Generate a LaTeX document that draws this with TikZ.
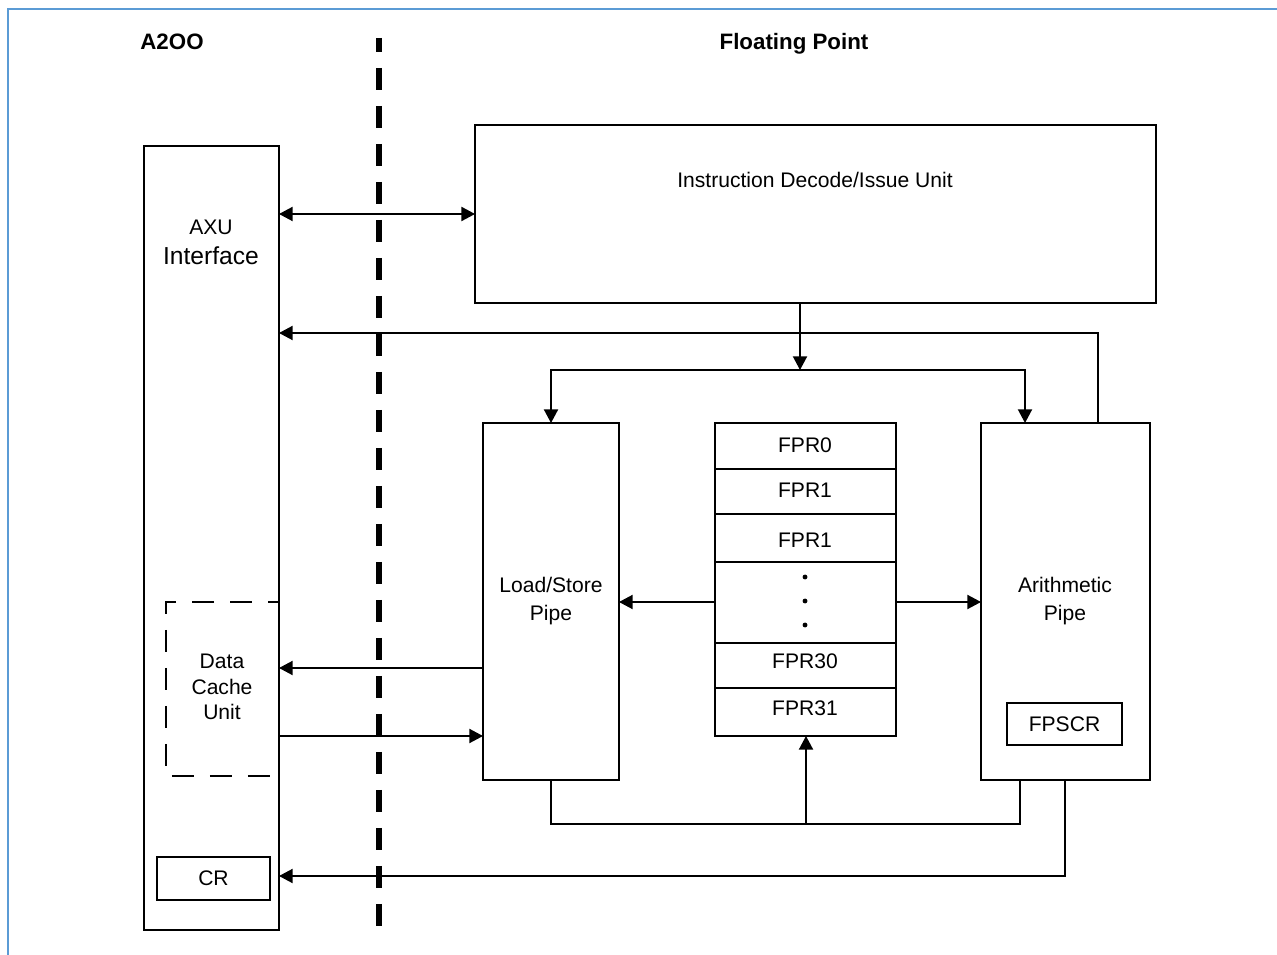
\documentclass[tikz,border=0pt]{standalone}
\usepackage{fontspec}
\setmainfont{Liberation Sans}
\usetikzlibrary{arrows.meta, positioning}
\definecolor{frameblue}{RGB}{91, 155, 213}

\begin{document}
\begin{tikzpicture}[x=0.02cm, y=-0.02cm,
  >={Triangle[length=7.8pt, width=8pt]},
  box/.style={draw, line width=1.1pt, inner sep=0pt, outer sep=0pt},
  lbl/.style={font=\fontsize{12}{16.4}\selectfont, align=center, inner sep=0pt},
  ttl/.style={font=\fontsize{12.7}{15}\selectfont\bfseries, inner sep=0pt},
  link/.style={line width=1.1pt}]
  \useasboundingbox (0,0) rectangle (1277,955);

  % Page frame
  \draw[frameblue, line width=1.2pt] (8,955) -- (8,9) -- (1277,9);

  % Titles
  \node[ttl] (a2oo) at (172,42) {A2OO};
  \node[ttl] (fptitle) at (794,44) {Floating Point};

  % Boundary between the two sides
  \draw[line width=3.4pt, dash pattern=on 0.44cm off 0.32cm, dash phase=0.16cm]
    (379,38) -- (379,940);

  % AXU interface
  \node[box, minimum width=2.7cm, minimum height=15.68cm] (axu) at (211.5,538) {};
  \node[lbl] (axulbl) at (211,227) {AXU};
  \node[lbl, font=\fontsize{14}{16}\selectfont] (intlbl) at (211,256) {Interface};

  % Data cache unit (dashed)
  \coordinate (dcutop) at (166,602);
  \coordinate (dcubot) at (166,776);
  \draw[link, dash pattern=on 0.44cm off 0.32cm, dash phase=0.22cm]
    (dcutop -| axu.east) -- (dcutop) -- (dcubot) -- (dcubot -| axu.east);
  \node[lbl, font=\fontsize{12}{14.5}\selectfont] (dculbl) at (222,687) {Data\\Cache\\Unit};

  % CR
  \node[box, lbl, minimum width=2.26cm, minimum height=0.86cm] (cr) at (213.5,878.5) {CR};

  % Instruction decode
  \node[box, minimum width=13.62cm, minimum height=3.56cm] (idu) at (815.5,214) {};
  \node[lbl] (idulbl) at (815,180) {Instruction Decode/Issue Unit};

  % Load/store pipe
  \node[box, minimum width=2.72cm, minimum height=7.14cm] (lsp) at (551,601.5) {};
  \node[lbl] (lsplbl) at (551,601) {Load/Store\\Pipe};

  % Register file
  \node[box, minimum width=3.62cm, minimum height=6.26cm] (fpr) at (805.5,579.5) {};
  \draw[link] (fpr.west |- 0,469) -- (fpr.east |- 0,469);
  \draw[link] (fpr.west |- 0,514) -- (fpr.east |- 0,514);
  \draw[link] (fpr.west |- 0,562) -- (fpr.east |- 0,562);
  \draw[link] (fpr.west |- 0,643) -- (fpr.east |- 0,643);
  \draw[link] (fpr.west |- 0,688) -- (fpr.east |- 0,688);
  \node[lbl] (fpr0) at (805,445) {FPR0};
  \node[lbl] (fpr1) at (805,490) {FPR1};
  \node[lbl] (fpr1b) at (805,540) {FPR1};
  \fill (805,577) circle[radius=1.4pt];
  \fill (805,601) circle[radius=1.4pt];
  \fill (805,625) circle[radius=1.4pt];
  \node[lbl] (fpr30) at (805,661) {FPR30};
  \node[lbl] (fpr31) at (805,708.5) {FPR31};

  % Arithmetic pipe
  \node[box, minimum width=3.38cm, minimum height=7.14cm] (arith) at (1065.5,601.5) {};
  \node[lbl] (arithlbl) at (1065,601) {Arithmetic\\Pipe};
  \node[box, lbl, minimum width=2.3cm, minimum height=0.84cm] (fpscr) at (1064.5,724) {FPSCR};

  % Issue paths
  \draw[link, <->] (idu.west -| axu.east) -- (idu.west);
  \coordinate (split) at (800,370);
  \coordinate (arin) at (1025,423);
  \draw[link, ->] (idu.south -| split) -- (split);
  \draw[link, ->] (split) -| (lsp.north);
  \draw[link, ->] (split) -| (arin);

  % Feedback to AXU
  \coordinate (fback) at (1098,333);
  \draw[link, ->] (fback |- arith.north) -- (fback) -- (fback -| axu.east);

  % Register reads
  \coordinate (rdrow) at (805,602);
  \draw[link, ->] (rdrow -| fpr.west) -- (rdrow -| lsp.east);
  \draw[link, ->] (rdrow -| fpr.east) -- (rdrow -| arith.west);

  % Load/store to data cache
  \coordinate (ldrow) at (380,668);
  \coordinate (strow) at (380,736);
  \draw[link, ->] (ldrow -| lsp.west) -- (ldrow -| axu.east);
  \draw[link, ->] (strow -| axu.east) -- (strow -| lsp.west);

  % Write back
  \coordinate (wbrow) at (806,824);
  \coordinate (arout) at (1020,780);
  \draw[link] (lsp.south) |- (wbrow -| arout) -- (arout);
  \draw[link, ->] (wbrow) -- (wbrow |- fpr.south);

  % CR update
  \coordinate (crrow) at (1065,876);
  \draw[link, ->] (crrow |- arith.south) -- (crrow) -- (crrow -| axu.east);
\end{tikzpicture}
\end{document}
